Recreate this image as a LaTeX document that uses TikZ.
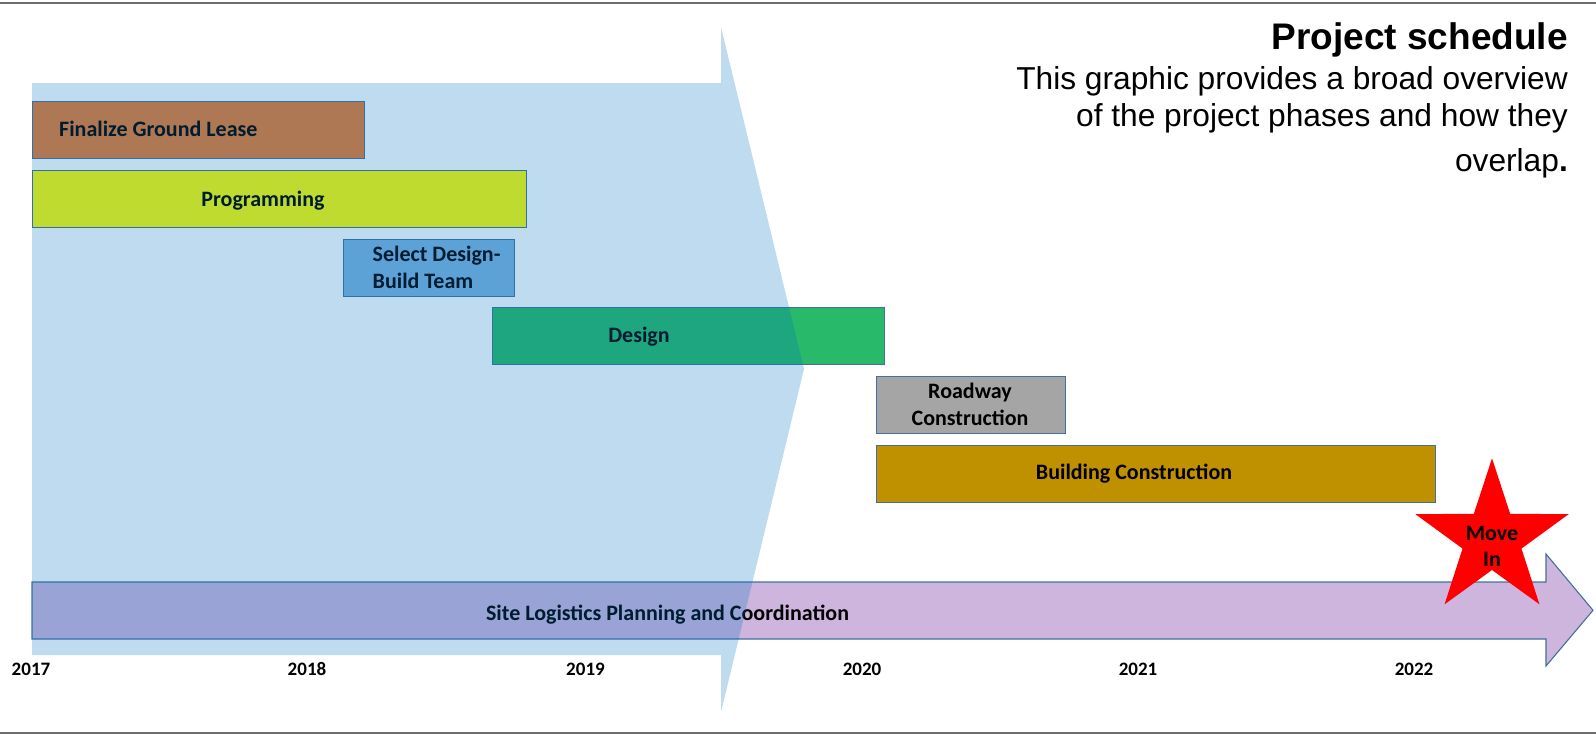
\documentclass[tikz,border=0pt]{standalone}
\usepackage{fontspec}
\setmainfont{Carlito}
\newfontfamily\arial{Liberation Sans}
\usetikzlibrary{positioning}
\definecolor{ovl}{HTML}{0070C0}
\definecolor{outl}{HTML}{41719C}
\definecolor{leasec}{HTML}{EA7C30}
\definecolor{progc}{HTML}{FFFF00}
\definecolor{selc}{HTML}{7CB3DE}
\definecolor{desc}{HTML}{29B96A}
\definecolor{roadc}{HTML}{A5A5A5}
\definecolor{buildc}{HTML}{BF9000}
\definecolor{sitec}{HTML}{CDB5DE}
\definecolor{framec}{HTML}{6E6E6E}
\tikzset{
  bar/.style={draw=outl, line width=1.1pt, inner sep=0pt, anchor=north west},
  bartext/.style={font=\fontsize{22}{26}\selectfont\bfseries, inner sep=0pt, text=black},
  yeartext/.style={font=\fontsize{19}{22}\selectfont\bfseries, inner sep=0pt, anchor=base},
  frameline/.style={draw=framec, line width=2pt},
}
\begin{document}
\begin{tikzpicture}[x=1pt,y=-1pt]
\useasboundingbox (0,0) rectangle (1596,734);
% frame lines
\coordinate (tl) at (0,2.7);
\coordinate (tr) at (1596,2.7);
\coordinate (bl) at (0,732.7);
\coordinate (br) at (1596,732.7);
\draw[frameline] (tl) -- (tr);
\draw[frameline] (bl) -- (br);

% bars
\node[bar, fill=leasec, minimum width=332pt, minimum height=57pt] (lease) at (32,101) {};
\node[bar, fill=progc, minimum width=493.5pt, minimum height=57pt] (prog) at (32,170) {};
\node[bar, fill=selc, minimum width=171pt, minimum height=57pt] (sel) at (343,238.7) {};
\node[bar, fill=desc, minimum width=392pt, minimum height=57pt] (des) at (492,307) {};
\node[bar, fill=roadc, minimum width=189pt, minimum height=57pt] (road) at (876,376) {};
\node[bar, fill=buildc, minimum width=559pt, minimum height=57pt] (build) at (876,445) {};

% site logistics arrow
\draw[draw=outl, line width=1.1pt, fill=sitec, line join=miter]
  (32,582) -- (1546,582) -- (1546,554) -- (1593,610.3) -- (1546,666) -- (1546,639) -- (32,639) -- cycle;

% star
\fill[red] (1492,458.3) -- (1510.22,513.92) -- (1568.75,514.06) -- (1521.48,548.58)
  -- (1539.43,604.29) -- (1492,570) -- (1444.57,604.29) -- (1462.52,548.58)
  -- (1415.25,514.06) -- (1473.78,513.92) -- cycle;

% bar texts
\node[bartext, anchor=base west] (tlease) at (59,136.7) {Finalize Ground Lease};
\node[bartext, anchor=base] (tprog) at (263,206.7) {Programming};
\node[bartext, anchor=base west] (tsel1) at (372.5,261.7) {Select Design-};
\node[bartext, anchor=base west] (tsel2) at (372.5,288.3) {Build Team};
\node[bartext, anchor=base] (tdes) at (639,342.3) {Design};
\node[bartext, anchor=base] (troad1) at (970,398.3) {Roadway};
\node[bartext, anchor=base] (troad2) at (970,425.7) {Construction};
\node[bartext, anchor=base] (tbuild) at (1134,479) {Building Construction};
\node[bartext, anchor=base] (tsite) at (667.5,620) {Site Logistics Planning and Coordination};
\node[bartext, anchor=base] (tmove1) at (1492,540) {Move};
\node[bartext, anchor=base] (tmove2) at (1492,566.7) {In};

% years
\node[yeartext] (y17) at (31,675) {2017};
\node[yeartext] (y18) at (307,675) {2018};
\node[yeartext] (y19) at (585.5,675) {2019};
\node[yeartext] (y20) at (862,675) {2020};
\node[yeartext] (y21) at (1138,675) {2021};
\node[yeartext] (y22) at (1414,675) {2022};

% chevron overlay
\fill[ovl, fill opacity=0.25]
  (32,83) -- (721,83) -- (721,27) -- (804,369) -- (721,712) -- (721,655) -- (32,655) -- cycle;

% title block
\node[anchor=base east, inner sep=0pt, font=\arial\bfseries\fontsize{37}{42}\selectfont] (title) at (1568,49.3) {Project schedule};
\node[anchor=base east, inner sep=0pt, font=\arial\fontsize{31.7}{37}\selectfont] (d1) at (1568,89.3) {This graphic provides a broad overview};
\node[anchor=base east, inner sep=0pt, font=\arial\fontsize{31.7}{37}\selectfont] (d2) at (1568,126.5) {of the project phases and how they};
\node[anchor=base east, inner sep=0pt, font=\arial\fontsize{31.7}{37}\selectfont] (d3) at (1568,171) {overlap\textbf{.}};
\end{tikzpicture}
\end{document}
